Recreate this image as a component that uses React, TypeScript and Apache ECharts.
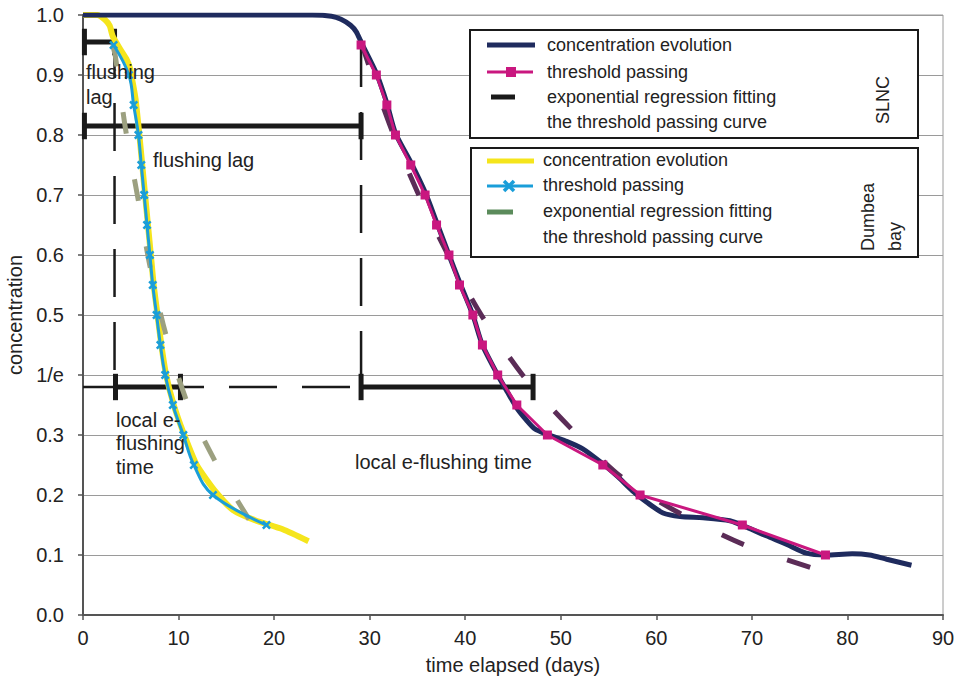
import React, { useEffect, useRef } from 'react';
import * as echarts from 'echarts';

const FONT = '"Liberation Sans", Arial, Helvetica, sans-serif';

// ---------- axes ----------
const xMin = 0;
const xMax = 90;
const xInterval = 10;
const yTickLabels = ['0.0', '0.1', '0.2', '0.3', '1/e', '0.5', '0.6', '0.7', '0.8', '0.9', '1.0'];
const xAxisTitle = 'time elapsed (days)';
const yAxisTitle = 'concentration';

// ---------- SLNC ----------
const slncConcentration: [number, number][] = [
  [0, 1.0], [12, 1.0], [24, 1.0], [26, 0.998], [27, 0.993], [28, 0.983], [28.6, 0.972],
  [29.1, 0.955], [30.7, 0.903], [31.8, 0.853], [32.7, 0.803], [34.3, 0.755], [35.8, 0.705],
  [37.0, 0.655], [38.3, 0.6], [39.4, 0.555], [40.8, 0.5], [41.8, 0.45], [43.4, 0.4],
  [44.4, 0.372], [45.4, 0.345], [46.4, 0.325], [47.3, 0.31], [48.6, 0.301], [50.5, 0.29],
  [52.3, 0.277], [54.4, 0.252], [56, 0.23], [57.5, 0.207], [59, 0.188], [60.7, 0.17],
  [62.5, 0.164], [64.9, 0.162], [67.7, 0.157], [69.5, 0.146], [71.5, 0.132], [73.6, 0.118],
  [75.7, 0.103], [77.7, 0.1], [80.5, 0.102], [82.3, 0.1], [84.1, 0.093], [86.7, 0.083],
];
const slncThresholdDays = [29.1, 30.7, 31.8, 32.7, 34.3, 35.8, 37.0, 38.3, 39.4, 40.8, 41.8, 43.4, 45.4, 48.6, 54.4, 58.3, 69.0, 77.7];
const slncThresholdValues = [0.95, 0.9, 0.85, 0.8, 0.75, 0.7, 0.65, 0.6, 0.55, 0.5, 0.45, 0.4, 0.35, 0.3, 0.25, 0.2, 0.15, 0.1];
const slncFit: [number, number][] = [
  [29.1, 0.955], [31, 0.865], [33, 0.78], [35, 0.705], [37, 0.638], [39, 0.576], [41.8, 0.497],
  [46.1, 0.398], [51.3, 0.307], [56.5, 0.228], [62.85, 0.166], [69.5, 0.115], [77.6, 0.072],
];

// ---------- Dumbea bay ----------
const dumbeaConcentration: [number, number][] = [
  [0, 1.0], [1.5, 1.0], [2.3, 0.992], [2.8, 0.982], [3.1, 0.965], [3.9, 0.943], [4.6, 0.925],
  [4.9, 0.912], [5.2, 0.888], [5.5, 0.86], [5.9, 0.8], [6.2, 0.75], [6.5, 0.7], [6.8, 0.65],
  [7.1, 0.6], [7.4, 0.55], [7.8, 0.5], [8.2, 0.45], [8.7, 0.4], [9.5, 0.35], [10.6, 0.3],
  [11.9, 0.25], [13.9, 0.205], [15.7, 0.175], [18, 0.158], [20.9, 0.143], [23.6, 0.123],
];
const dumbeaThresholdDays = [3.2, 4.8, 5.3, 5.8, 6.1, 6.4, 6.7, 7.0, 7.3, 7.7, 8.1, 8.6, 9.4, 10.5, 11.6, 13.6, 19.2];
const dumbeaThresholdValues = [0.95, 0.9, 0.85, 0.8, 0.75, 0.7, 0.65, 0.6, 0.55, 0.5, 0.45, 0.4, 0.35, 0.3, 0.25, 0.2, 0.15];
const dumbeaFit: [number, number][] = [
  [3.1, 0.95], [3.4, 0.93], [4.45, 0.81], [5.8, 0.69], [7.05, 0.578], [8.85, 0.457],
  [11.2, 0.342], [14.45, 0.238], [17.95, 0.145], [18.8, 0.13],
];

// ---------- annotations (data coordinates) ----------
const measureBars = [
  { x0: 0.15, x1: 3.3, y: 0.955 },   // Dumbea flushing lag
  { x0: 0.15, x1: 29.1, y: 0.815 },  // SLNC flushing lag
  { x0: 3.4, x1: 10.2, y: 0.38 },    // Dumbea local e-flushing time
  { x0: 29.1, x1: 47.1, y: 0.38 },   // SLNC local e-flushing time
];
const capHalf = 0.022;
const guideVertical = [
  { x: 3.3, y0: 0.975, y1: 0.38 },
  { x: 29.1, y0: 0.96, y1: 0.38 },
];
const guideHorizontal = { y: 0.38, x0: 0, x1: 29.1 };

const legendSLNC = ['concentration evolution', 'threshold passing', 'exponential regression fitting', 'the threshold passing curve'];
const legendDumbea = ['concentration evolution', 'threshold passing', 'exponential regression fitting', 'the threshold passing curve'];

const C = {
  navy: '#1f2b5e',
  pink: '#c9177f',
  slncFit: '#5b2c57',
  yellow: '#f5e51c',
  blue: '#1a9ed9',
  dumbeaFit: '#9ca080',
  legendGreen: '#5b8b5b',
  black: '#1a1a1a',
  text: '#222222',
};

const X_SYMBOL = 'path://M0,2L2,0L5,3L8,0L10,2L7,5L10,8L8,10L5,7L2,10L0,8L3,5Z';

function zip(xs: number[], ys: number[]): [number, number][] {
  return xs.map((x, i) => [x, ys[i]]);
}

function blackLine(data: [number, number][], width: number, dash?: number[]) {
  return {
    type: 'line',
    data,
    symbol: 'none',
    silent: true,
    z: 1,
    lineStyle: { color: C.black, width, type: dash ? dash : 'solid' },
  };
}

function txt(x: number, y: number, text: string, size: number, extra: any = {}) {
  return {
    type: 'text',
    x,
    y,
    z: 100,
    ...extra,
    style: {
      text,
      fontSize: size,
      fontFamily: FONT,
      fill: C.text,
      align: 'left',
      verticalAlign: 'middle',
      ...(extra.style || {}),
    },
  };
}

function ln(x1: number, y1: number, x2: number, y2: number, stroke: string, lineWidth: number) {
  return { type: 'line', z: 100, shape: { x1, y1, x2, y2 }, style: { stroke, lineWidth } };
}

export default function App() {
  const ref = useRef<HTMLDivElement>(null);

  useEffect(() => {
    if (!ref.current) return;
    const chart = echarts.init(ref.current, undefined, { renderer: 'svg' });

    const annotationSeries: any[] = [];
    measureBars.forEach((b) => {
      annotationSeries.push(blackLine([[b.x0, b.y], [b.x1, b.y]], 5));
      annotationSeries.push(blackLine([[b.x0, b.y - capHalf], [b.x0, b.y + capHalf]], 5));
      annotationSeries.push(blackLine([[b.x1, b.y - capHalf], [b.x1, b.y + capHalf]], 5));
    });
    guideVertical.forEach((g) => {
      annotationSeries.push(blackLine([[g.x, g.y0], [g.x, g.y1]], 2.5, [48, 25]));
    });
    annotationSeries.push(blackLine([[guideHorizontal.x0, guideHorizontal.y], [guideHorizontal.x1, guideHorizontal.y]], 2.5, [48, 25]));

    const graphic: any[] = [
      // legend box SLNC
      { type: 'rect', z: 90, shape: { x: 470, y: 30, width: 448, height: 108 }, style: { fill: '#fff', stroke: C.black, lineWidth: 2 } },
      ln(487, 45, 535, 45, C.navy, 5),
      ln(487, 72, 533, 72, C.pink, 3),
      { type: 'rect', z: 101, shape: { x: 506, y: 67, width: 10, height: 10 }, style: { fill: C.pink } },
      ln(491, 97, 515, 97, C.black, 5),
      txt(547, 45, legendSLNC[0], 18),
      txt(547, 72, legendSLNC[1], 18),
      txt(547, 97, legendSLNC[2], 18),
      txt(547, 122, legendSLNC[3], 18),
      txt(883, 100, 'SLNC', 18, { rotation: Math.PI / 2, style: { align: 'center' } }),
      // legend box Dumbea
      { type: 'rect', z: 90, shape: { x: 471, y: 148, width: 447, height: 109 }, style: { fill: '#fff', stroke: C.black, lineWidth: 2 } },
      ln(487, 161, 534, 161, C.yellow, 5),
      ln(487, 186, 533, 186, C.blue, 3),
      ln(504, 181, 514, 191, C.blue, 3.5),
      ln(504, 191, 514, 181, C.blue, 3.5),
      ln(487, 212, 513, 212, C.legendGreen, 5),
      txt(543, 160, legendDumbea[0], 18),
      txt(543, 185, legendDumbea[1], 18),
      txt(543, 211, legendDumbea[2], 18),
      txt(543, 237, legendDumbea[3], 18),
      txt(868, 251, 'Dumbea', 18, { rotation: Math.PI / 2 }),
      txt(895, 251, 'bay', 18, { rotation: Math.PI / 2 }),
      // annotations
      txt(86, 72, 'flushing', 20),
      txt(86, 97, 'lag', 20),
      txt(153, 160, 'flushing lag', 20),
      txt(116, 420, 'local e-', 20),
      txt(116, 443, 'flushing', 20),
      txt(116, 467, 'time', 20),
      txt(355, 462, 'local e-flushing time', 20),
    ];

    chart.setOption({
      animation: false,
      backgroundColor: '#ffffff',
      textStyle: { fontFamily: FONT },
      grid: {
        left: 83, right: 15, top: 15, bottom: 64,
        show: true, borderColor: '#9a9a9a', borderWidth: 1,
        containLabel: false,
        outerBoundsMode: 'none',
      },
      xAxis: {
        type: 'value',
        min: xMin,
        max: xMax,
        interval: xInterval,
        name: xAxisTitle,
        nameLocation: 'middle',
        nameGap: 40,
        nameTextStyle: { fontSize: 20, color: C.text, fontFamily: FONT },
        axisLine: { show: true, lineStyle: { color: '#555', width: 2 } },
        axisTick: { show: true, length: 5, lineStyle: { color: '#555', width: 1.5 } },
        axisLabel: { fontSize: 20, color: C.text, margin: 13, fontFamily: FONT },
        splitLine: { show: false },
      },
      yAxis: {
        type: 'value',
        min: 0,
        max: 1,
        interval: 0.1,
        name: yAxisTitle,
        nameLocation: 'middle',
        nameGap: 55,
        nameTextStyle: { fontSize: 20, color: C.text, fontFamily: FONT },
        axisLine: { show: true, lineStyle: { color: '#555', width: 2 } },
        axisTick: { show: true, length: 5, lineStyle: { color: '#555', width: 1.5 } },
        axisLabel: {
          fontSize: 20,
          color: C.text,
          margin: 19,
          fontFamily: FONT,
          formatter: (v: number) => yTickLabels[Math.round(v * 10)] ?? '',
        },
        splitLine: { show: true, lineStyle: { color: '#9a9a9a', width: 1 } },
      },
      series: [
        ...annotationSeries,
        {
          name: 'Dumbea concentration evolution',
          type: 'line',
          data: dumbeaConcentration,
          symbol: 'none',
          smooth: 0.2,
          z: 2,
          lineStyle: { color: C.yellow, width: 6 },
        },
        {
          name: 'SLNC concentration evolution',
          type: 'line',
          data: slncConcentration,
          symbol: 'none',
          smooth: 0.25,
          z: 2,
          lineStyle: { color: C.navy, width: 5 },
        },
        {
          name: 'Dumbea exponential fit',
          type: 'line',
          data: dumbeaFit,
          symbol: 'none',
          smooth: 0.3,
          z: 3,
          lineStyle: { color: C.dumbeaFit, width: 5, type: [22, 46] },
        },
        {
          name: 'SLNC exponential fit',
          type: 'line',
          data: slncFit,
          symbol: 'none',
          smooth: 0.3,
          z: 3,
          lineStyle: { color: C.slncFit, width: 5, type: [24, 46] },
        },
        {
          name: 'Dumbea threshold passing',
          type: 'line',
          data: zip(dumbeaThresholdDays, dumbeaThresholdValues),
          symbol: X_SYMBOL,
          symbolSize: 9,
          smooth: 0.4,
          z: 4,
          itemStyle: { color: C.blue },
          lineStyle: { color: C.blue, width: 3 },
        },
        {
          name: 'SLNC threshold passing',
          type: 'line',
          data: zip(slncThresholdDays, slncThresholdValues),
          symbol: 'rect',
          symbolSize: 9,
          z: 4,
          itemStyle: { color: C.pink },
          lineStyle: { color: C.pink, width: 3 },
        },
      ],
      graphic,
    });

    return () => chart.dispose();
  }, []);

  return <div ref={ref} style={{ position: 'absolute', left: 0, top: 0, width: 958, height: 679 }} />;
}
